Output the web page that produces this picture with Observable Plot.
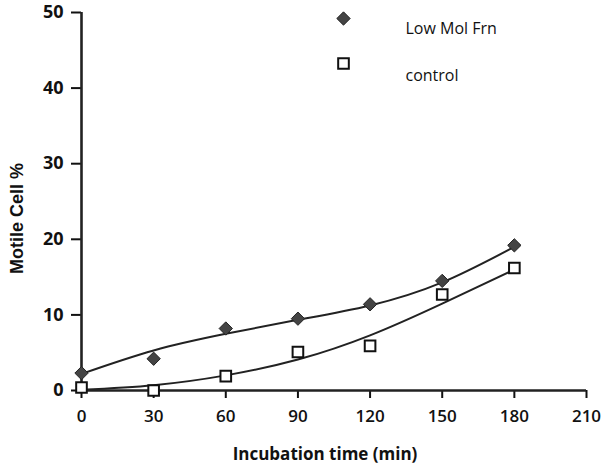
<!DOCTYPE html>
<html>
<head>
<meta charset="utf-8">
<script src="https://cdn.jsdelivr.net/npm/d3@7"></script>
<script src="https://cdn.jsdelivr.net/npm/@observablehq/plot@0.6"></script>
<style>
  html, body { margin: 0; padding: 0; background: #fff; }
</style>
</head>
<body>
<div id="chart"></div>
<script>
// Data
const times = [0, 30, 60, 90, 120, 150, 180];
const lowMolFrn = [2.3, 4.2, 8.2, 9.5, 11.4, 14.5, 19.2];
const control = [0.4, 0.0, 1.9, 5.1, 5.9, 12.7, 16.2];
// fitted curves as drawn in the reference
const lowMolFit = [2.2, 5.3, 7.5, 9.35, 11.25, 14.3, 19.0];
const controlFit = [0.1, 0.7, 2.0, 4.1, 7.3, 11.5, 16.0];
const xTicks = [0, 30, 60, 90, 120, 150, 180, 210];
const yTicks = [0, 10, 20, 30, 40, 50];
const seriesNames = ["Low Mol Frn", "control"];

const low = times.map((t, i) => ({t, v: lowMolFrn[i]}));
const ctl = times.map((t, i) => ({t, v: control[i]}));
const lowFit = times.map((t, i) => ({t, v: lowMolFit[i]}));
const ctlFit = times.map((t, i) => ({t, v: controlFit[i]}));

const font = "'Open Sans', 'Liberation Sans', sans-serif";

const plot = Plot.plot({
  width: 606,
  height: 473,
  marginLeft: 81,
  marginRight: 20,
  marginTop: 12,
  marginBottom: 83,
  style: {background: "#fff", fontFamily: font, color: "#111"},
  x: {domain: [0, 210], ticks: xTicks},
  y: {domain: [0, 50], ticks: yTicks},
  marks: [
    Plot.axisY({ticks: yTicks, tickSize: 10, tickPadding: 8, fontSize: 18, fontWeight: "bold", strokeWidth: 2, label: null, tickFormat: d => d}),
    Plot.axisX({ticks: xTicks, tickSize: 8, tickPadding: 11, fontSize: 17, fontWeight: 600, strokeWidth: 2, label: null, tickFormat: d => d}),
    Plot.ruleX([0], {stroke: "#222", strokeWidth: 2.6}),
    Plot.ruleY([0], {stroke: "#222", strokeWidth: 2.6}),
    Plot.line(lowFit, {x: "t", y: "v", curve: "natural", stroke: "#222", strokeWidth: 2}),
    Plot.line(ctlFit, {x: "t", y: "v", curve: "natural", stroke: "#222", strokeWidth: 2}),
    Plot.dot(low, {x: "t", y: "v", symbol: "diamond2", r: 6, fill: "#444", stroke: "#222", strokeWidth: 1}),
    Plot.dot(ctl, {x: "t", y: "v", symbol: "square", r: 6, fill: "#fff", stroke: "#111", strokeWidth: 2}),
    // axis titles
    Plot.text(["Motile Cell %"], {frameAnchor: "left", textAnchor: "middle", dx: -64, dy: 17, rotate: -90, fontSize: 18, fontWeight: "bold", fontFamily: "'Liberation Sans', Arial, sans-serif", fill: "#111"}),
    Plot.text(["Incubation time (min)"], {frameAnchor: "bottom", dx: -9, dy: 69, fontSize: 17, fontWeight: "bold", fill: "#111"}),
    // legend
    Plot.dot([seriesNames[0]], {frameAnchor: "top-left", dx: 262, dy: 6, symbol: "diamond2", r: 6, fill: "#444", stroke: "#222", strokeWidth: 1}),
    Plot.dot([seriesNames[1]], {frameAnchor: "top-left", dx: 262, dy: 51, symbol: "square", r: 6, fill: "#fff", stroke: "#111", strokeWidth: 2}),
    Plot.text([seriesNames[0]], {frameAnchor: "top-left", dx: 324, dy: 10.5, textAnchor: "start", fontSize: 16, fill: "#111"}),
    Plot.text([seriesNames[1]], {frameAnchor: "top-left", dx: 324, dy: 57, textAnchor: "start", fontSize: 16, fill: "#111"})
  ]
});
document.getElementById("chart").appendChild(plot);
</script>
</body>
</html>
